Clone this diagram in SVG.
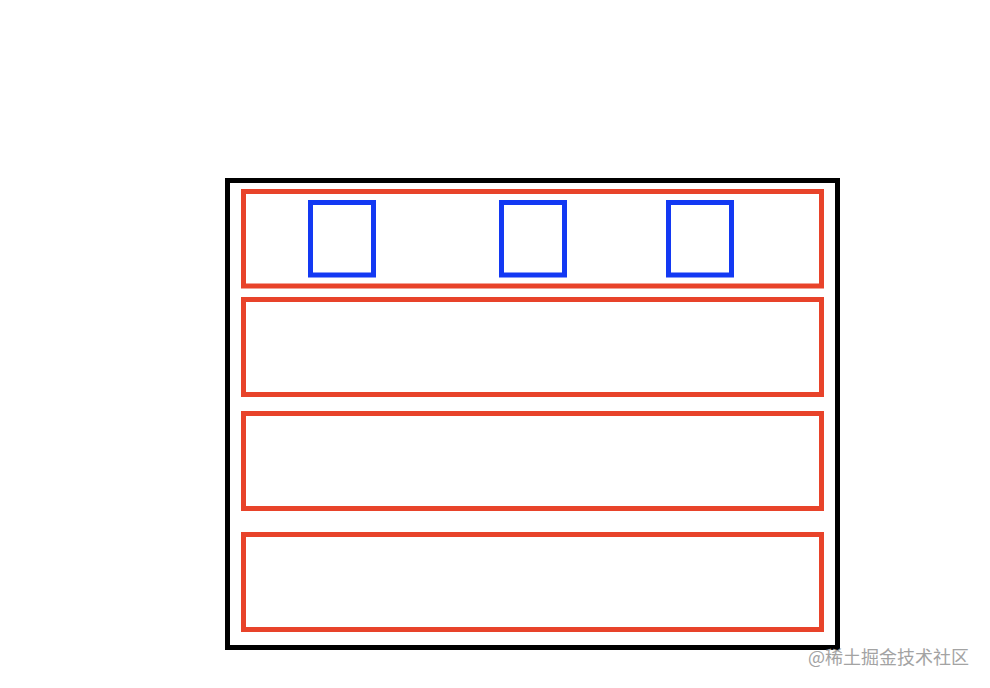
<svg xmlns="http://www.w3.org/2000/svg" width="990" height="688" viewBox="0 0 990 688">
<style>
.outer{fill:none;stroke:#000;stroke-width:5}
.row{fill:none;stroke:#E8432A;stroke-width:5}
.item{fill:none;stroke:#1339F3;stroke-width:5}
.wm{font-family:"Noto Sans CJK SC","Liberation Sans",sans-serif;font-size:18px;fill:#a3a3a3}
</style>
<rect width="990" height="688" fill="#fff"/>
<g id="container"><rect class="outer" x="227.5" y="180.5" width="610" height="467"/></g>
<g id="row1"><rect class="row" x="243.5" y="191.5" width="578" height="94.5"/></g>
<g id="item1"><rect class="item" x="310.5" y="202.5" width="63" height="72.5"/></g>
<g id="item2"><rect class="item" x="501.5" y="202.5" width="63" height="72.5"/></g>
<g id="item3"><rect class="item" x="668.5" y="202.5" width="63" height="72.5"/></g>
<g id="row2"><rect class="row" x="243.5" y="299.5" width="578" height="95"/></g>
<g id="row3"><rect class="row" x="243.5" y="413.5" width="578" height="95"/></g>
<g id="row4"><rect class="row" x="243.5" y="534.5" width="578" height="95"/></g>
<g id="connectors"></g>
<text class="wm" x="808" y="664">@稀土掘金技术社区</text>
</svg>
